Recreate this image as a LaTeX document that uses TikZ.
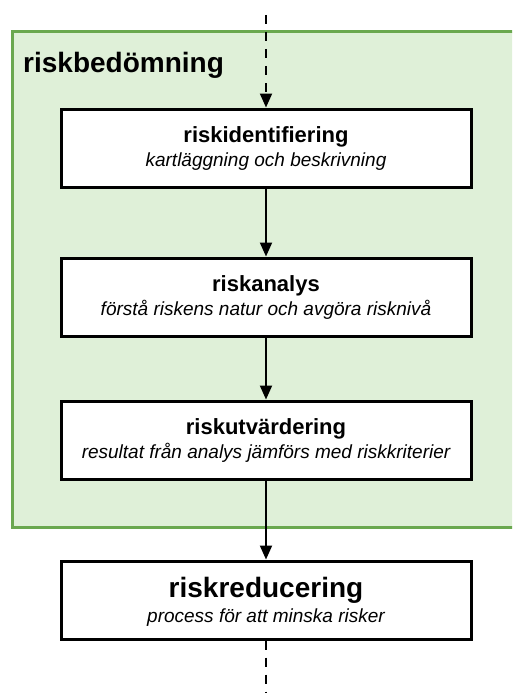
\documentclass[tikz,border=0pt]{standalone}
\usepackage{fontspec}
\setmainfont{Liberation Sans}
\usetikzlibrary{arrows.meta}
\definecolor{grfill}{RGB}{223,240,216}
\definecolor{grline}{RGB}{106,168,79}
\tikzset{
  stepbox/.style={draw=black, line width=3pt, fill=white, minimum width=410pt, minimum height=78pt, inner sep=0pt},
  ttl/.style={anchor=base, inner sep=0pt, font=\fontsize{22}{26}\selectfont\bfseries},
  bigttl/.style={anchor=base, inner sep=0pt, font=\fontsize{28}{32}\selectfont\bfseries},
  sub/.style={anchor=base, inner sep=0pt, font=\fontsize{19}{22}\selectfont\itshape},
  conn/.style={line width=2pt, -{Triangle[length=14pt,width=12pt]}},
  dconn/.style={conn, dash pattern=on 9pt off 8pt},
}
\begin{document}
\begin{tikzpicture}[x=1pt,y=-1pt]
\useasboundingbox (0,0) rectangle (512,693);
\clip (0,0) rectangle (512,693);
\fill[white] (0,0) rectangle (512,693);
% green area
\draw[fill=grfill, draw=grline, line width=3pt] (12,32) rectangle (530,527);
\node[anchor=base west, inner sep=0pt, font=\fontsize{28}{32}\selectfont\bfseries] (lbl) at (23,72) {riskbedömning};
% boxes
\node[stepbox] (b1) at (266,148) {};
\node[stepbox] (b2) at (266,297) {};
\node[stepbox] (b3) at (266,440) {};
\node[stepbox] (b4) at (266,600) {};
\node[ttl] (b1t) at ([yshift=-35pt]b1.north) {riskidentifiering};
\node[sub] (b1s) at ([yshift=-59pt]b1.north) {kartläggning och beskrivning};
\node[ttl] (b2t) at ([yshift=-35pt]b2.north) {riskanalys};
\node[sub] (b2s) at ([yshift=-59pt]b2.north) {förstå riskens natur och avgöra risknivå};
\node[ttl] (b3t) at ([yshift=-35pt]b3.north) {riskutvärdering};
\node[sub] (b3s) at ([yshift=-59pt]b3.north) {resultat från analys jämförs med riskkriterier};
\node[bigttl] (b4t) at ([yshift=-38pt]b4.north) {riskreducering};
\node[sub] (b4s) at ([yshift=-63pt]b4.north) {process för att minska risker};
% connectors
\coordinate (top) at (266,15);
\coordinate (bot) at (266,700);
\draw[dconn] (top) -- (b1.north);
\draw[conn] (b1.south) -- (b2.north);
\draw[conn] (b2.south) -- (b3.north);
\draw[conn] (b3.south) -- (b4.north);
\draw[line width=2pt, dash pattern=on 9pt off 8pt] (b4.south) -- (bot);
\end{tikzpicture}
\end{document}
